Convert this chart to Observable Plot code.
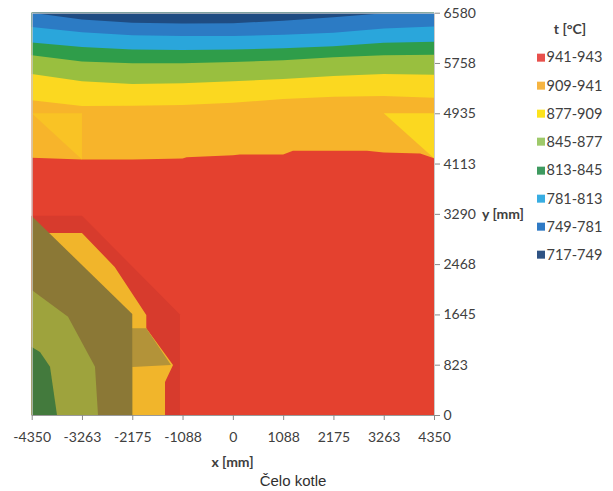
<!DOCTYPE html>
<html>
<head>
<meta charset="utf-8">
<script src="https://cdn.jsdelivr.net/npm/d3@7"></script>
<script src="https://cdn.jsdelivr.net/npm/@observablehq/plot@0.6"></script>
<style>
  html, body { margin: 0; padding: 0; background: #fff; }
  #wrap { position: relative; width: 613px; height: 491px; overflow: hidden; font-family: Lato, "Noto Sans", sans-serif; color: #404040; }
  #wrap svg { position: absolute; left: 0; top: 0; }
  .lbl { position: absolute; white-space: nowrap; line-height: 1.15; }
  .sw { width: 8px; height: 8px; margin-right: 2px; display: inline-block; }
</style>
</head>
<body>
<div id="wrap"></div>
<script>
// ---------- data ----------
const xTicks = [-4350, -3263, -2175, -1088, 0, 1088, 2175, 3263, 4350];
const yTicks = [0, 823, 1645, 2468, 3290, 4113, 4935, 5758, 6580];
const legendLabels = ["941-943", "909-941", "877-909", "845-877", "813-845", "781-813", "749-781", "717-749"];

// lower edge (mm) of each upper temperature band, read at the xTicks columns
const yellowBottom    = [5147, 5055, 5057, 5072, 5108, 5168, 5204, 5218, 5190];
const ltGreenBottom   = [5577, 5460, 5414, 5428, 5458, 5496, 5545, 5578, 5564];
const greenBottom     = [5883, 5782, 5755, 5755, 5773, 5801, 5851, 5883, 5891];
const ltBlueBottom    = [6093, 6019, 5978, 5968, 5978, 6000, 6032, 6087, 6104];
const blueBottom      = [6347, 6259, 6213, 6197, 6197, 6218, 6251, 6321, 6355];
const darkBlueBottom  = [6580, 6468, 6415, 6403, 6407, 6450, 6505, 6573, 6580];

// lower edge of the 909-941 band (top of the 941-943 region)
const orangeBottomX = [-4350, -3263, -2175, -1088, -1000, 0, 150, 1088, 1300, 2175, 2900, 3263, 4050, 4350];
const orangeBottomY = [4206, 4180, 4180, 4195, 4214, 4248, 4262, 4262, 4323, 4323, 4323, 4295, 4278, 4200];

// 877-909 wedges at the side walls
const leftWedgeX = [-4350, -3263], leftWedgeLow = [4935, 4180];
const rightWedgeX = [3263, 4350], rightWedgeLow = [4935, 4200];

// cold corner (bottom left): right-hand edge x (mm) of each zone at height y (mm)
const shadeY = [3260, 1645, 0],            shadeX = [-3263, -1144, -1144];
const warmY  = [2977, 2421, 1636, 1418, 818, 540, 0], warmX = [-3263, -2555, -1872, -1872, -1294, -1467, -1467];
const midY   = [1418, 818, 785, 0],        midX   = [-1872, -1338, -2175, -2175];
const coolY  = [3255, 1652, 0],            coolX  = [-4350, -2175, -2175];
const coldY  = [2045, 1608, 790, 0],       coldX  = [-4350, -3565, -2981, -2916];
const coreY  = [1112, 1030, 790, 0],       coreX  = [-4350, -4171, -3954, -3803];

// ---------- palette ----------
const bandColors = ["#e4412f", "#f7b42b", "#fbd820", "#99bf3f", "#2f9d4a", "#2aa6db", "#2c7bc4", "#1f4c82"];
const legendSwatch = ["#e8504c", "#f6b441", "#fde31c", "#9ec96a", "#3e9a60", "#38ade2", "#2f7ac5", "#2f5384"];

const X0 = xTicks[0], X1 = xTicks[xTicks.length - 1], YTOP = yTicks[yTicks.length - 1];

const band = (xs, lows, highs) => xs.map((x, i) => ({x, y1: lows[i], y2: highs ? highs[i] : YTOP}));
const zone = (ys, xs) => ys.map((y, i) => ({y, x1: X0, x2: xs[i]}));
const aY = (data, fill) => Plot.areaY(data, {x: "x", y1: "y1", y2: "y2", fill});
const aX = (data, fill) => Plot.areaX(data, {y: "y", x1: "x1", x2: "x2", fill});

const chart = Plot.plot({
  width: 613,
  height: 491,
  marginLeft: 31.7,
  marginRight: 179,
  marginTop: 12.7,
  marginBottom: 76,
  style: {fontFamily: "Lato, 'Noto Sans', sans-serif", fontSize: "14px", background: "transparent", color: "#404040"},
  x: {domain: [X0, X1]},
  y: {domain: [0, YTOP]},
  marks: [
    aY(band([X0, X1], [0, 0]), bandColors[0]),
    aX(zone(shadeY, shadeX), "#d73b2d"),
    aX(zone(warmY, warmX), "#f1b52b"),
    aX(zone(midY, midX), "#b39339"),
    aX(zone(coolY, coolX), "#8b7836"),
    aX(zone(coldY, coldX), "#9ea33d"),
    aX(zone(coreY, coreX), "#437a3d"),
    aY(band(orangeBottomX, orangeBottomY), bandColors[1]),
    aY(band(leftWedgeX, leftWedgeLow, [4935, 4935]), "#f9c325"),
    aY(band(rightWedgeX, rightWedgeLow, [4935, 4935]), bandColors[2]),
    aY(band(xTicks, yellowBottom), bandColors[2]),
    aY(band(xTicks, ltGreenBottom), bandColors[3]),
    aY(band(xTicks, greenBottom), bandColors[4]),
    aY(band(xTicks, ltBlueBottom), bandColors[5]),
    aY(band(xTicks, blueBottom), bandColors[6]),
    aY(band(xTicks, darkBlueBottom), bandColors[7]),
    Plot.frame({stroke: "#c9c9c9", strokeWidth: 1}),
    Plot.ruleY([0], {stroke: "#9a9a9a"}),
    Plot.axisX({ticks: xTicks, tickFormat: d => String(d), tickSize: 5, tickPadding: 12, label: null, stroke: "#8a8a8a", fill: "#404040"}),
    Plot.axisY({anchor: "right", ticks: yTicks, tickFormat: d => String(d), tickSize: 5, tickPadding: 4, label: null, stroke: "#8a8a8a", fill: "#404040"})
  ]
});

const wrap = document.getElementById("wrap");
wrap.appendChild(chart);

function addLabel(text, left, centerY, css, anchor) {
  const d = document.createElement("div");
  d.className = "lbl";
  d.textContent = text;
  Object.assign(d.style, css);
  d.style.top = centerY + "px";
  d.style.left = left + "px";
  d.style.transform = anchor === "center" ? "translate(-50%, -50%)" : "translate(0, -50%)";
  wrap.appendChild(d);
}
addLabel("y [mm]", 482, 214, {fontWeight: "bold", fontSize: "14px"});
addLabel("x [mm]", 232.5, 462, {fontWeight: "bold", fontSize: "14px"}, "center");
addLabel("Čelo kotle", 293, 481, {fontFamily: "'Liberation Sans', Arial, sans-serif", fontSize: "15px", color: "#303030"}, "center");
addLabel("t [°C]", 570, 29, {fontWeight: "bold", fontSize: "14px"}, "center");

legendLabels.forEach((lab, i) => {
  const d = document.createElement("div");
  d.className = "lbl";
  d.style.left = "536.5px";
  d.style.top = (57.3 + i * 28.25) + "px";
  d.style.transform = "translate(0, -50%)";
  d.style.display = "flex";
  d.style.alignItems = "center";
  d.style.fontSize = "14.5px";
  const sw = document.createElement("span");
  sw.className = "sw";
  sw.style.background = legendSwatch[i];
  const t = document.createElement("span");
  t.textContent = lab;
  d.appendChild(sw); d.appendChild(t);
  wrap.appendChild(d);
});
</script>
</body>
</html>
